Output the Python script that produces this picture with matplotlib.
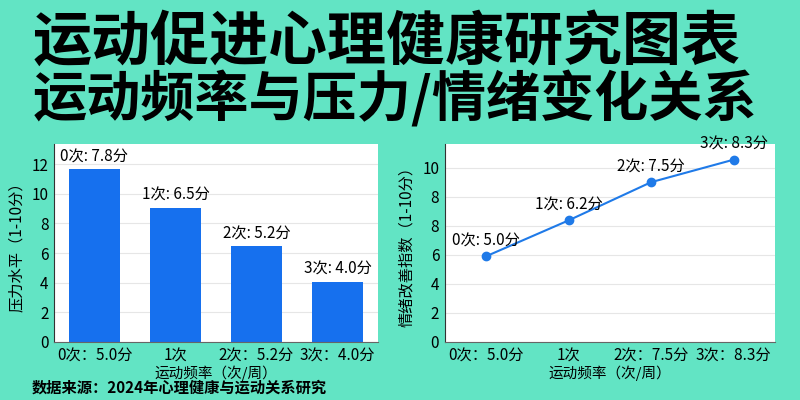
import matplotlib
matplotlib.use("Agg")
import matplotlib.pyplot as plt
import numpy as np

plt.rcParams['font.family'] = ['Noto Sans CJK SC', 'DejaVu Sans']

# -- data --
title_line1 = "运动促进心理健康研究图表"
title_line2 = "运动频率与压力/情绪变化关系"
source_note = "数据来源：2024年心理健康与运动关系研究"

stress_ticks = ["0次：5.0分", "1次", "2次：5.2分", "3次：4.0分"]
stress_values = [11.65, 9.05, 6.45, 4.08]
stress_labels = ["0次: 7.8分", "1次: 6.5分", "2次: 5.2分", "3次: 4.0分"]

mood_ticks = ["0次：5.0分", "1次", "2次：7.5分", "3次：8.3分"]
mood_values = [5.9, 8.37, 11.0, 12.55]
mood_labels = ["0次: 5.0分", "1次: 6.2分", "2次: 7.5分", "3次: 8.3分"]

y_ticks = [0, 2, 4, 6, 8, 10, 12]
left_ytick_labels = ["0", "2", "4", "6", "8", "10", "12"]
right_ytick_labels = ["0", "2", "4", "6", "8", "8", "10"]

bg = "#62e4c4"
blue = "#1670ee"
line_blue = "#1f7ae8"

fig = plt.figure(figsize=(8, 4), dpi=100)
fig.patch.set_facecolor(bg)

fig.text(0.041, 0.8925, title_line1, fontsize=42.5, fontweight="black", va="center", ha="left")
fig.text(0.041, 0.75, title_line2, fontsize=39, fontweight="black", va="center", ha="left")
fig.text(0.040, 0.03, source_note, fontsize=11, fontweight="bold", va="center", ha="left")


def style_axes(ax, ylim, ytick_labels, ylabel):
    ax.set_facecolor("white")
    ax.set_xlim(-0.5, 3.5)
    ax.set_ylim(0, ylim)
    ax.set_yticks(y_ticks)
    ax.set_yticklabels(ytick_labels)
    ax.grid(axis="y", color="#e6e6e6", linewidth=0.8)
    ax.set_axisbelow(True)
    for s in ["top", "right"]:
        ax.spines[s].set_visible(False)
    ax.spines["left"].set_color("#333333")
    ax.spines["bottom"].set_color("#666666")
    ax.tick_params(length=0, labelsize=11, pad=4)
    for t in ax.get_xticklabels() + ax.get_yticklabels():
        t.set_fontweight("medium")
    ax.set_xlabel("运动频率（次/周）", fontsize=10.5, fontweight="medium", labelpad=1)
    ax.set_ylabel(ylabel, fontsize=11, fontweight="medium", labelpad=5)


# left: stress bar chart
ax1 = fig.add_axes([0.0675, 0.145, 0.405, 0.495])
x = np.arange(len(stress_values))
ax1.bar(x, stress_values, width=0.64, color=blue)
ax1.set_xticks(x)
ax1.set_xticklabels(stress_ticks)
style_axes(ax1, 13.36, left_ytick_labels, "压力水平（1-10分）")
for xi, v, lab in zip(x, stress_values, stress_labels):
    ax1.annotate(lab, (xi, v), xytext=(0, 3), textcoords="offset points",
                 ha="center", va="bottom", fontsize=11, fontweight="medium",
                 annotation_clip=False)

# right: mood line chart
ax2 = fig.add_axes([0.556, 0.145, 0.4125, 0.495])
ax2.plot(x, mood_values, color=line_blue, linewidth=1.5, marker="o", markersize=6)
ax2.set_xticks(x)
ax2.set_xticklabels(mood_ticks)
style_axes(ax2, 13.63, right_ytick_labels, "情绪改善指数（1-10分）")
for xi, v, lab in zip(x, mood_values, mood_labels):
    ax2.annotate(lab, (xi, v), xytext=(0, 5), textcoords="offset points",
                 ha="center", va="bottom", fontsize=11, fontweight="medium",
                 annotation_clip=False)

fig.savefig("out.png", dpi=100, facecolor=bg)
